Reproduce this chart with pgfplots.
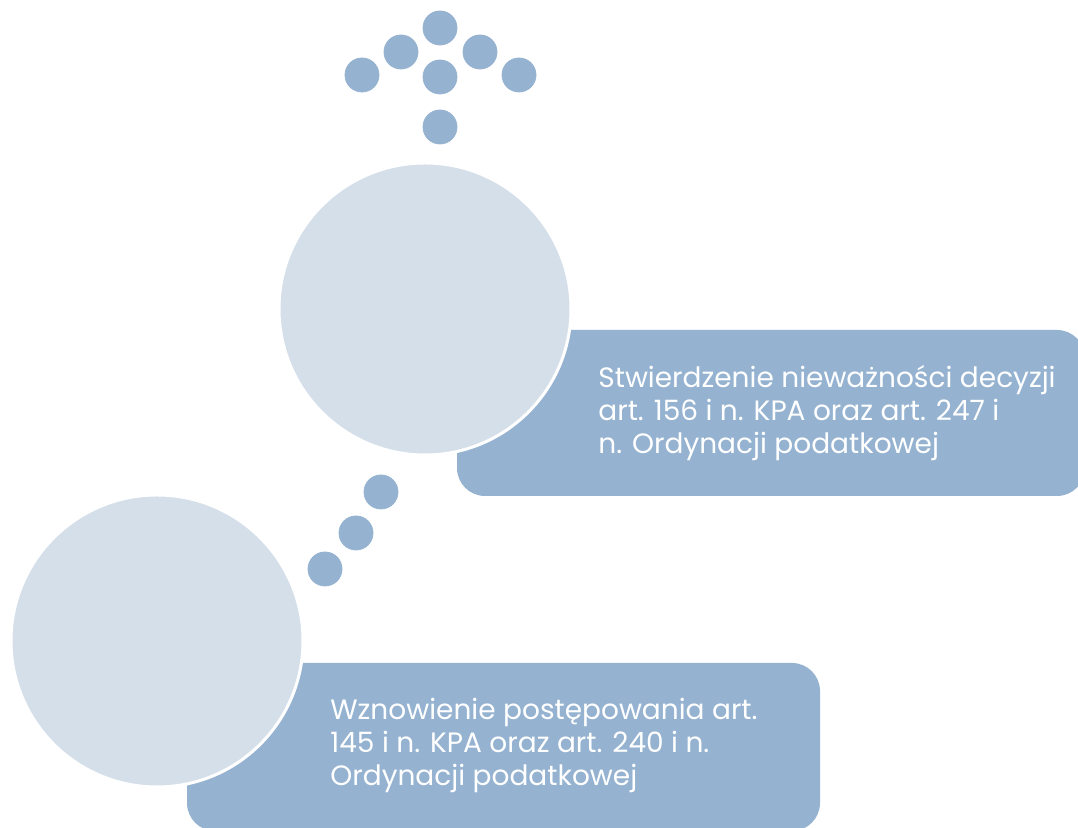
\documentclass[border=0pt]{standalone}
\usepackage{fontspec}
\setmainfont{Poppins}
\usepackage{pgfplots}
\pgfplotsset{compat=1.18}
\definecolor{dotblue}{RGB}{149,179,209}
\definecolor{paleblue}{RGB}{213,223,234}

\begin{document}
\begin{tikzpicture}
\begin{axis}[
  width=539pt, height=414pt, scale only axis,
  xmin=0, xmax=1078, ymin=0, ymax=828,
  hide axis,
]
% white frame so the page keeps the full size
\addplot[draw=none, fill=white] coordinates {(0,0) (1078,0) (1078,828) (0,828)};

% rounded text boxes
\addplot[draw=none, fill=dotblue, rounded corners=14pt]
  coordinates {(770,498) (1085,498) (1085,332) (457,332) (457,498) (770,498)};
\addplot[draw=none, fill=dotblue, rounded corners=14pt]
  coordinates {(500,165) (820,165) (820,-3) (187,-3) (187,165) (500,165)};

% large circles
\addplot[only marks, mark=*, mark size=73pt,
  mark options={fill=paleblue, draw=white, line width=1.5pt}]
  coordinates {(425,519) (157,187)};

% small dots: arrow at top and diagonal
\addplot[only marks, color=dotblue, mark=*, mark size=8.5pt,
  mark options={fill=dotblue, draw=dotblue}]
  coordinates {(440,800) (401,776) (480,776) (362,753) (440,751) (519,753) (440,701)};
\addplot[only marks, color=dotblue, mark=*, mark size=8.5pt,
  mark options={fill=dotblue, draw=dotblue}]
  coordinates {(381,336) (356,295) (325,259)};

\node[anchor=north west, align=left, text=white, inner sep=0pt,
  font=\fontsize{14}{16.4}\selectfont] at (axis cs:598,463)
  {Stwierdzenie nieważności decyzji\\art. 156 i n. KPA oraz art. 247 i\\n. Ordynacji podatkowej};
\node[anchor=north west, align=left, text=white, inner sep=0pt,
  font=\fontsize{14}{16.4}\selectfont] at (axis cs:330,130)
  {Wznowienie postępowania art.\\145 i n. KPA oraz art. 240 i n.\\Ordynacji podatkowej};
\end{axis}
\end{tikzpicture}
\end{document}
